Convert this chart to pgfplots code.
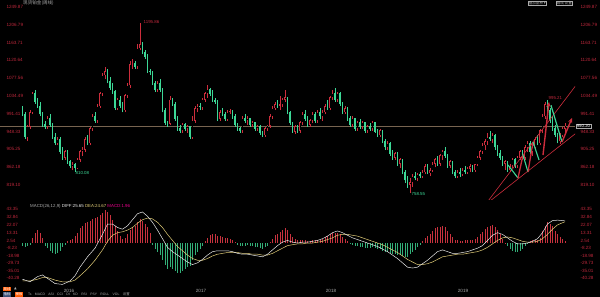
\documentclass[border=0pt]{standalone}
\usepackage{pgfplots}
\usepackage{pgfplotstable}
\pgfplotsset{compat=1.18}
\usetikzlibrary{arrows.meta}
\usepackage{fontspec}
\setmainfont{Liberation Sans}
\newfontfamily\cjk{Noto Sans CJK SC}
\newfontfamily\djv{DejaVu Sans}
\definecolor{upred}{RGB}{205,45,60}
\definecolor{dngreen}{RGB}{60,215,150}
\definecolor{labred}{RGB}{190,40,60}
\definecolor{histred}{RGB}{200,50,62}
\definecolor{histgreen}{RGB}{50,175,120}
\definecolor{diffcol}{RGB}{232,232,232}
\definecolor{deacol}{RGB}{225,205,120}
\definecolor{pline}{RGB}{120,100,80}
\definecolor{txtgray}{RGB}{170,170,170}

\pgfplotstableread{
x o h l c m
22.5 1001 1010 985 990 -3
25 990 995 930 935 -5
27.5 935 965 925 960 -4
30 960 1000 955 995 -2
32.5 995 1045 990 1040 6
35 1040 1050 1015 1020 12
37.5 1020 1030 1005 1010 15
40 1010 1020 985 990 12
42.5 990 995 960 965 6
45 965 975 955 960 -3
47.5 960 985 955 980 -6
50 980 990 960 965 -9
52.5 965 970 930 935 -12
55 935 945 915 920 -13
57.5 920 935 915 930 -12
60 930 935 895 900 -9
62.5 900 910 880 885 -5
65 885 905 880 900 -2
67.5 900 905 870 875 2
70 875 880 860 865 4
72.5 865 875 855 870 5
75 870 872 851 860 8
77.5 860 885 858 880 12
80 880 905 875 900 17
82.5 900 910 890 905 20
85 905 935 900 930 23
87.5 930 940 915 920 24
90 920 960 915 955 26
92.5 955 990 950 985 28
95 985 995 970 975 29
97.5 975 1015 970 1010 30
100 1010 1045 1005 1040 32
102.5 1040 1090 1035 1085 35
105 1085 1105 1075 1095 38
107.5 1095 1100 1065 1070 36
110 1070 1080 1050 1055 32
112.5 1055 1065 1040 1045 27
115 1045 1050 1000 1005 20
117.5 1005 1030 1000 1025 14
120 1025 1035 1005 1010 8
122.5 1010 1020 995 1000 5
125 1000 1040 995 1035 6
127.5 1035 1065 1030 1060 10
130 1060 1120 1055 1110 15
132.5 1110 1125 1100 1113 18
135 1113 1120 1100 1105 20
137.5 1105 1160 1100 1150 24
140 1150 1211 1145 1160 28
142.5 1160 1165 1135 1140 25
145 1140 1145 1125 1130 22
147.5 1130 1135 1090 1095 18
150 1095 1100 1085 1092 12
152.5 1092 1095 1060 1065 -2
155 1065 1070 1045 1050 -7
157.5 1050 1070 1045 1065 -10
160 1065 1075 1045 1050 -14
162.5 1050 1055 995 1000 -20
165 1000 1005 965 970 -26
167.5 970 975 960 967 -30
170 967 1035 965 1025 -28
172.5 1025 1030 1010 1015 -30
175 1015 1020 975 980 -33
177.5 980 985 950 955 -35
180 955 965 945 950 -35
182.5 950 970 945 965 -32
185 965 970 950 955 -30
187.5 955 965 945 960 -28
190 960 962 930 935 -27
192.5 935 985 930 975 -20
195 975 1010 970 1005 -14
197.5 1005 1015 995 1010 -10
200 1010 1018 1000 1007 -7
202.5 1007 1030 1000 1025 -3
205 1025 1045 1020 1040 2
207.5 1040 1060 1030 1050 6
210 1050 1055 1035 1040 9
212.5 1040 1048 1020 1025 10
215 1025 1030 1015 1020 10
217.5 1020 1025 975 980 8
220 980 1000 975 995 8
222.5 995 1005 985 990 7
225 990 995 975 978 6
227.5 978 1000 975 995 6
230 995 1002 990 998 5
232.5 998 1000 980 985 3
235 985 990 960 965 1
237.5 965 970 950 955 -2
240 955 960 945 950 -4
242.5 950 985 945 980 -3
245 980 990 970 975 -3
247.5 975 985 965 980 -2
250 980 982 960 965 -3
252.5 965 975 960 970 -4
255 970 972 950 955 -5
257.5 955 965 950 960 -5
260 960 965 940 945 -6
262.5 945 950 935 940 -7
265 940 960 935 955 -5
267.5 955 965 950 962 -3
270 962 990 958 985 1
272.5 985 1010 980 1005 5
275 1005 1020 1000 1015 9
277.5 1015 1025 1005 1010 11
280 1010 1035 1000 1013 13
282.5 1013 1030 1008 1025 15
285 1025 1050 1020 1030 17
287.5 1030 1032 990 995 15
290 995 998 965 970 11
292.5 970 972 945 948 7
295 948 965 942 960 5
297.5 960 965 945 950 3
300 950 975 945 970 3
302.5 970 995 965 990 4
305 990 1000 975 980 4
307.5 980 985 960 965 2
310 965 980 960 975 2
312.5 975 995 970 990 3
315 990 995 970 975 3
317.5 975 1000 970 995 4
320 995 1005 980 985 4
322.5 985 1000 975 995 5
325 995 1015 990 1010 7
327.5 1010 1025 1000 1005 8
330 1005 1035 1000 1030 10
332.5 1030 1050 1025 1040 12
335 1040 1055 1020 1025 12
337.5 1025 1045 1020 1040 12
340 1040 1045 1010 1015 10
342.5 1015 1020 990 995 7
345 995 1010 990 1005 5
347.5 1005 1008 975 980 2
350 980 985 960 965 -1
352.5 965 985 960 980 -2
355 980 982 950 955 -4
357.5 955 975 950 970 -4
360 970 978 955 960 -5
362.5 960 975 955 970 -5
365 970 972 945 950 -6
367.5 950 965 945 960 -6
370 960 968 950 955 -6
372.5 955 975 950 970 -5
375 970 972 945 948 -6
377.5 948 955 935 940 -7
380 940 955 935 950 -7
382.5 950 952 920 925 -9
385 925 930 905 910 -10
387.5 910 925 905 920 -10
390 920 922 890 895 -12
392.5 895 905 880 885 -13
395 885 900 880 895 -13
397.5 895 898 865 870 -14
400 870 885 860 880 -14
402.5 880 882 845 850 -15
405 850 855 825 830 -16
407.5 830 840 812 820 -16
410 820 835 800 825 -13
412.5 825 845 815 840 -10
415 840 850 830 835 -8
417.5 835 848 828 845 -5
420 845 850 835 840 -2
422.5 840 855 835 850 2
425 850 870 845 865 6
427.5 865 870 845 848 8
430 848 860 840 855 11
432.5 855 875 850 870 14
435 870 885 862 880 17
437.5 880 890 865 870 18
440 870 895 865 890 19
442.5 890 905 880 900 20
445 900 910 885 890 18
447.5 890 895 860 865 14
450 865 880 860 875 11
452.5 875 878 845 850 7
455 850 855 835 840 4
457.5 840 855 835 850 3
460 850 860 838 845 2
462.5 845 860 840 855 2
465 855 865 845 850 3
467.5 850 862 845 858 3
470 858 870 850 865 4
472.5 865 868 850 855 4
475 855 870 850 868 5
477.5 868 890 865 885 7
480 885 905 880 900 10
482.5 900 920 895 915 13
485 915 930 905 925 16
487.5 925 945 915 935 18
490 935 950 925 930 20
492.5 930 945 920 940 21
495 940 942 905 910 19
497.5 910 915 890 895 15
500 895 905 880 885 10
502.5 885 890 865 870 5
505 870 880 855 875 0.5
507.5 875 878 850 855 -4
510 855 870 850 865 -7
512.5 865 885 860 880 -9
515 880 885 860 865 -10
517.5 865 890 860 885 -10
520 885 905 880 900 -9
522.5 900 905 880 885 -7
525 885 915 880 910 -4
527.5 910 925 900 920 -1
530 920 925 895 900 2
532.5 900 915 890 910 3
535 910 935 905 930 4
537.5 930 940 915 920 4
540 920 955 915 950 6
542.5 950 990 945 985 14
545 985 1020 980 1015 20
547.5 1015 1025 995 1000 24
550 1000 1005 970 975 22
552.5 975 985 950 955 20
555 955 965 935 940 14
557.5 940 945 920 925 11
560 925 945 918 940 7
562.5 940 960 935 955 5
565 955 970 945 962 2
}\candles

\pgfplotstableread{
x dif dea
22.5 -42 -44
30 -45 -44
37.5 -39 -42
42.5 -37 -40
47.5 -41 -40
55 -47 -43
62.5 -48 -45
70 -44 -45
75 -38 -43
80 -28 -38
87.5 -16 -30
95 -6 -20
102.5 10 -8
107.5 22 2
112.5 22 9
117.5 18 12
122.5 16 13
127.5 20 15
132.5 27 18
137.5 34 23
142.5 36 27
147.5 31 29
152.5 24 28
157.5 15 24
162.5 5 18
167.5 -5 10
172.5 -10 3
177.5 -14 -4
182.5 -18 -9
187.5 -22 -14
192.5 -25 -18
197.5 -23 -20
202.5 -19 -20
207.5 -14 -18
212.5 -10 -15
217.5 -9 -13
222.5 -9 -12
227.5 -9 -11
232.5 -10 -11
237.5 -12 -11
242.5 -13 -12
247.5 -13 -12
252.5 -14 -13
257.5 -15 -13
262.5 -16 -14
267.5 -13 -14
272.5 -8 -12
277.5 -3 -9
282.5 1 -6
287.5 3 -3
292.5 1 -2
297.5 0 -1
302.5 1 -1
307.5 1 0
312.5 2 0
317.5 3 1
322.5 5 2
327.5 8 4
332.5 12 6
337.5 14 9
342.5 12 10
347.5 9 10
352.5 6 9
357.5 4 8
362.5 2 6
367.5 0 4
372.5 -2 2
377.5 -4 0
382.5 -7 -2
387.5 -10 -5
392.5 -14 -8
397.5 -18 -11
402.5 -23 -15
407.5 -28 -19
412.5 -29 -22
417.5 -28 -25
422.5 -24 -25
427.5 -20 -24
432.5 -15 -22
437.5 -10 -19
442.5 -8 -16
447.5 -10 -15
452.5 -12 -14
457.5 -12 -13
462.5 -11 -13
467.5 -10 -12
472.5 -8 -11
477.5 -6 -10
482.5 -3 -8
487.5 3 -5
492.5 9 -1
497.5 12 3
502.5 10 6
507.5 6 7
512.5 2 6
517.5 -1 4
522.5 -1 2
527.5 0 1
532.5 2 1
537.5 5 2
542.5 12 5
547.5 22 10
552.5 26 16
557.5 26.5 21
562.5 26 23.5
565 25.65 24.67
}\macdlines

\pgfplotsset{
  chartbase/.style={
    scale only axis, anchor=south west,
    xmin=0, xmax=575,
    axis line style={draw=none},
    major tick length=0pt,
    tick style={draw=none},
    /pgf/number format/assume math mode=true,
    ticklabel style={font=\fontsize{4.6}{5}\selectfont, text=labred},
  },
  upsel/.style={restrict expr to domain={\thisrow{c}-\thisrow{o}}{0:100000}},
  dnsel/.style={restrict expr to domain={\thisrow{c}-\thisrow{o}}{-100000:-0.001}},
}

\begin{document}
\begin{tikzpicture}[x=1bp,y=1bp]
\fill[black] (0bp,0bp) rectangle (600bp,297bp);
\useasboundingbox (0bp,0bp) rectangle (600bp,297bp);

% ---------------- main price panel ----------------
\begin{axis}[chartbase, at={(0bp,97bp)}, width=575bp, height=200bp,
  ymin=782.8, ymax=1266.8,
  xtick=\empty,
  ytick={1249.86,1206.78,1163.70,1120.62,1077.54,1034.46,991.38,948.30,905.22,862.14,819.06},
  yticklabels={1249.87,1206.79,1163.71,1120.64,1077.56,1034.49,991.41,948.33,905.25,862.18,819.10},
  yticklabel style={anchor=west, xshift=3bp},
  clip=true]
  % current price line
  \addplot[pline, line width=0.3bp] coordinates {(0,962) (575,962)};
  % wicks
  \addplot[draw=none, upsel, error bars/.cd, y dir=plus, y explicit, error mark=none,
    error bar style={draw=upred, line width=0.45bp}]
    table[x=x, y=l, y error expr=\thisrow{h}-\thisrow{l}] {\candles};
  \addplot[draw=none, dnsel, error bars/.cd, y dir=plus, y explicit, error mark=none,
    error bar style={draw=dngreen, line width=0.45bp}]
    table[x=x, y=l, y error expr=\thisrow{h}-\thisrow{l}] {\candles};
  % up bodies (hollow)
  \addplot[draw=none, upsel, error bars/.cd, y dir=plus, y explicit, error mark=none,
    error bar style={draw=upred, line width=1.9bp}]
    table[x=x, y=o, y error expr=\thisrow{c}-\thisrow{o}+1] {\candles};
  \addplot[draw=none, restrict expr to domain={\thisrow{c}-\thisrow{o}}{4:100000},
    error bars/.cd, y dir=plus, y explicit, error mark=none,
    error bar style={draw=black, line width=0.8bp}]
    table[x=x, y expr=\thisrow{o}+1.3, y error expr=\thisrow{c}-\thisrow{o}-2.6] {\candles};
  % down bodies (filled)
  \addplot[draw=none, dnsel, error bars/.cd, y dir=plus, y explicit, error mark=none,
    error bar style={draw=dngreen, line width=1.9bp}]
    table[x=x, y=c, y error expr=\thisrow{o}-\thisrow{c}+1] {\candles};

  % hand drawn trend lines
  \addplot[upred, line width=0.6bp] coordinates {(485,770.7) (580,1073.2)};
  \addplot[upred, line width=0.6bp] coordinates {(485,770.7) (580,952.2)};
  % zigzag annotation
  \addplot[dngreen, line width=1.1bp] coordinates {(508,867.5) (518,836.0)};
  \addplot[upred, line width=1.3bp, -{Stealth[length=4bp,width=4bp]}] coordinates {(518,836.0) (523,891.7)};
  \addplot[dngreen, line width=1.1bp] coordinates {(523,891.7) (528,850.6)};
  \addplot[upred, line width=1.3bp, -{Stealth[length=4bp,width=4bp]}] coordinates {(528,850.6) (533,923.2)};
  \addplot[dngreen, line width=1.1bp] coordinates {(533,923.2) (539,879.6)};
  \addplot[upred, line width=1.4bp, -{Stealth[length=5bp,width=4.5bp]}] coordinates {(543,891.7) (549,1020)};
  \addplot[dngreen, line width=1.2bp] coordinates {(551,1012) (562,923.2)};
  \addplot[upred, line width=1.4bp, -{Stealth[length=5bp,width=4.5bp]}] coordinates {(562,923.2) (572,981.2)};

  % extreme value labels
  \node[anchor=west, font=\fontsize{4.4}{5}\selectfont, text=labred, inner sep=0.5bp] at (axis cs:143,1213) {1195.86};
  \node[anchor=west, font=\fontsize{4.4}{5}\selectfont, text=dngreen, inner sep=0.5bp] at (axis cs:75,849) {810.08};
  \node[anchor=west, font=\fontsize{4.4}{5}\selectfont, text=dngreen, inner sep=0.5bp] at (axis cs:411,798) {758.55};
  \node[anchor=west, font=\fontsize{4.4}{5}\selectfont, text=labred, inner sep=0.5bp] at (axis cs:548,1030) {995.21};
\end{axis}

% right labels of price panel
\begin{axis}[chartbase, at={(0bp,97bp)}, width=575bp, height=200bp,
  ymin=782.8, ymax=1266.8, xtick=\empty,
  ytick={1249.86,1206.78,1163.70,1120.62,1077.54,1034.46,991.38,948.30,905.22,862.14,819.06},
  yticklabels={1249.87,1206.79,1163.71,1120.64,1077.56,1034.49,991.41,948.33,905.25,862.18,819.10},
  yticklabel pos=right, yticklabel style={anchor=west, xshift=2bp}, clip=false]
  \node[anchor=west, draw=txtgray, line width=0.3bp, fill=black, text=white,
    font=\fontsize{4.4}{5}\selectfont, inner sep=0.6bp] at (axis cs:576,962) {950.20};
\end{axis}

% ---------------- MACD panel ----------------
\begin{axis}[chartbase, at={(0bp,10bp)}, width=575bp, height=84bp,
  ymin=-51.0, ymax=46.4,
  xtick={69,201,331,463}, xticklabels={2016,2017,2018,2019},
  xticklabel style={text=txtgray, yshift=1.5bp},
  ytick={39.44,30.16,20.88,11.60,2.32,-5.80,-15.08,-23.20,-32.48,-40.60},
  yticklabels={43.35,32.84,22.07,13.31,2.54,-8.23,-18.98,-29.73,-35.01,-40.28},
  yticklabel style={anchor=west, xshift=3bp},
  clip=false]
  \addplot[ycomb, histred, line width=0.6bp, no marks,
    restrict expr to domain={\thisrow{m}}{0:1000}] table[x=x, y=m] {\candles};
  \addplot[ycomb, histgreen, line width=0.6bp, no marks,
    restrict expr to domain={\thisrow{m}}{-1000:-0.001}] table[x=x, y=m] {\candles};
  \addplot[deacol, line width=0.5bp, no marks] table[x=x, y=dea] {\macdlines};
  \addplot[diffcol, line width=0.5bp, no marks] table[x=x, y=dif] {\macdlines};
  \node[anchor=west, font=\fontsize{4.4}{5}\selectfont, inner sep=0pt] at (axis cs:30,43) {%
    \textcolor{txtgray}{MACD(26,12,9)}\ \textcolor{diffcol}{DIFF:25.65}\ \textcolor{deacol}{DEA:24.67}\ \textcolor{magenta}{MACD:1.96}};
\end{axis}

\begin{axis}[chartbase, at={(0bp,10bp)}, width=575bp, height=84bp,
  ymin=-51.0, ymax=46.4, xtick=\empty,
  ytick={39.44,30.16,20.88,11.60,2.32,-5.80,-15.08,-23.20,-32.48,-40.60},
  yticklabels={43.35,32.84,22.07,13.31,2.54,-8.23,-18.98,-29.73,-35.01,-40.28},
  yticklabel pos=right, yticklabel style={anchor=west, xshift=2bp}]
\end{axis}

% title and toolbar texts
\node[anchor=west, font=\cjk\fontsize{4.6}{5}\selectfont, text=txtgray, inner sep=0pt] at (23bp,293.5bp) {现货铂金(周线)};
\node[anchor=west, draw=txtgray, line width=0.3bp, font=\cjk\fontsize{3.6}{4}\selectfont, text=txtgray, inner sep=0.6bp] at (528bp,294bp) {叠加品种 {\djv ▾}};
\node[anchor=west, draw=txtgray, line width=0.3bp, font=\cjk\fontsize{3.6}{4}\selectfont, text=txtgray, inner sep=0.6bp] at (556bp,294bp) {画线 设置};
% bottom rows
\node[anchor=west, fill=orange!70!red, font=\cjk\fontsize{3.4}{4}\selectfont, text=white, inner sep=0.5bp] at (3bp,8bp) {周线};
\node[anchor=west, font=\djv\fontsize{3.4}{4}\selectfont, text=txtgray, inner sep=0pt] at (14bp,8bp) {▲};
\node[anchor=west, fill={rgb,255:red,60;green,80;blue,120}, font=\cjk\fontsize{3.4}{4}\selectfont, text=white, inner sep=0.5bp] at (3bp,2.5bp) {指标};
\node[anchor=west, fill=orange!70!red, font=\cjk\fontsize{3.4}{4}\selectfont, text=white, inner sep=0.5bp] at (15bp,2.5bp) {模板};
\node[anchor=west, font=\fontsize{3.4}{4}\selectfont, text=txtgray, inner sep=0pt] at (28bp,2.5bp)
  {Ts\quad MACD\quad ASI\quad CCI\quad DI\quad KD\quad RSI\quad PSY\quad ROLL\quad VOL\quad {\cjk 设置}};
\end{tikzpicture}
\end{document}
